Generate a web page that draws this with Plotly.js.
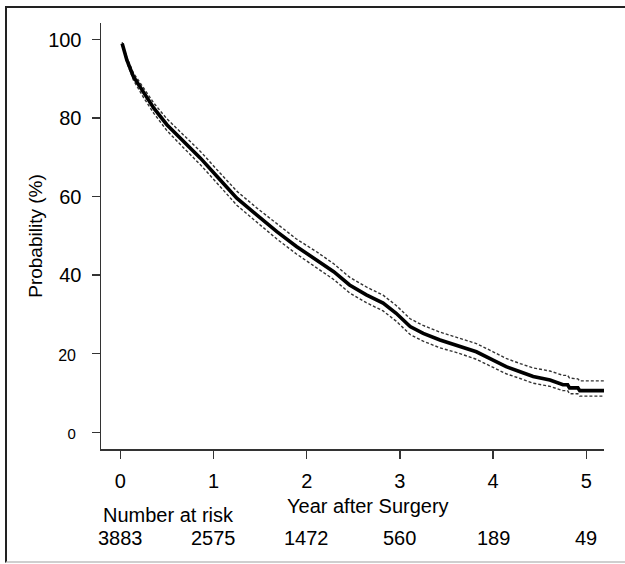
<!DOCTYPE html>
<html>
<head>
<meta charset="utf-8">
<script src="https://cdn.plot.ly/plotly-3.0.1.min.js"></script>
<style>
  html, body { margin: 0; padding: 0; background: #fff; }
  #wrap { position: relative; width: 625px; height: 564px; overflow: hidden; }
  #chart { position: absolute; left: 0; top: 0; width: 625px; height: 564px; }
  #frame { position: absolute; left: 5px; top: 6px; width: 640px; height: 553px;
           border-left: 2px solid #222; border-top: 2px solid #222; border-bottom: 2px solid #cfcfcf;
           pointer-events: none; }
</style>
</head>
<body>
<div id="wrap">
  <div id="chart"></div>
  <div id="frame"></div>
</div>
<script>
// Kaplan-Meier estimate (years after surgery, probability %)
const time = [0.02,0.07,0.14,0.25,0.36,0.50,0.68,0.86,1.07,1.25,1.46,1.68,1.89,2.11,2.29,2.46,2.64,2.82,2.96,3.11,3.25,3.43,3.61,3.82,4.00,4.14,4.29,4.43,4.61,4.75,4.80,4.82,4.91,4.93,5.20];
const survival = [99.0,94.8,90.6,86.4,82.5,78.3,74.0,69.8,64.3,59.6,55.4,51.1,47.3,43.9,40.9,37.5,35.0,32.9,30.3,26.9,25.2,23.5,22.2,20.5,18.4,16.7,15.4,14.2,13.3,12.1,12.1,11.3,11.3,10.6,10.6];
const upperCI = [99.3,95.4,91.5,87.6,83.8,79.8,75.6,71.5,66.0,61.4,57.2,53.0,49.2,45.9,42.9,39.5,37.0,34.9,32.3,28.9,27.2,25.5,24.2,22.6,20.5,18.8,17.5,16.4,15.6,14.5,14.5,13.8,13.6,13.1,13.1];
const lowerCI = [98.7,94.2,89.7,85.2,81.2,76.8,72.4,68.1,62.6,57.8,53.6,49.2,45.4,41.9,38.9,35.5,33.0,30.9,28.3,24.9,23.2,21.5,20.3,18.6,16.6,14.9,13.7,12.5,11.7,10.6,10.6,9.8,9.8,9.2,9.2];

// Axis ticks
const xTicks = [0,1,2,3,4,5];
const yTicks = [0,20,40,60,80,100];
const yTickLabels = ['<span style="font-size:15px">0</span>\u00a0','<span style="font-size:16px">20</span>\u00a0','40','60','80','100'];

// Number at risk table
const riskTimes = [0,1,2,3,4,5];
const riskCounts = ['3883','2575','1472','560','189','49'];

const FONT = '"Liberation Sans", Arial, Helvetica, sans-serif';

const traces = [
  { x: time, y: upperCI, type: 'scatter', mode: 'lines',
    line: { color: '#333', width: 1.4, dash: '3px,2px' }, hoverinfo: 'skip' },
  { x: time, y: lowerCI, type: 'scatter', mode: 'lines',
    line: { color: '#333', width: 1.4, dash: '3px,2px' }, hoverinfo: 'skip' },
  { x: time, y: survival, type: 'scatter', mode: 'lines',
    line: { color: '#000', width: 3.6 } }
];

const annotations = [
  { text: 'Year after Surgery', xref: 'paper', yref: 'paper', x: 0.53, y: -0.134,
    xanchor: 'center', yanchor: 'middle', showarrow: false, font: { size: 20, color: '#000', family: FONT } },
  { text: 'Number at risk', xref: 'paper', yref: 'paper', x: 0.0, y: -0.155,
    xanchor: 'left', yanchor: 'middle', showarrow: false, font: { size: 20, color: '#000', family: FONT } }
];
riskTimes.forEach((t, i) => {
  annotations.push({ text: riskCounts[i], xref: 'x', yref: 'paper', x: t, y: -0.209,
    xanchor: 'center', yanchor: 'middle', showarrow: false, font: { size: 20, color: '#000', family: FONT } });
});

const layout = {
  width: 625, height: 564,
  margin: { l: 101, r: 21, t: 23, b: 115 },
  paper_bgcolor: '#fff', plot_bgcolor: '#fff',
  showlegend: false,
  font: { family: FONT, color: '#000' },
  xaxis: {
    range: [-0.207, 5.19], tickvals: xTicks, ticktext: xTicks.map(String),
    showgrid: false, zeroline: false, showline: true, linecolor: '#333', linewidth: 1.5,
    ticks: 'outside', ticklen: 8, tickwidth: 1.5, tickcolor: '#333',
    tickfont: { size: 20, family: FONT, color: '#000' }, ticklabelstandoff: 5
  },
  yaxis: {
    range: [-4.25, 104.2], tickvals: yTicks, ticktext: yTickLabels,
    showgrid: false, zeroline: false, showline: true, linecolor: '#333', linewidth: 1.5,
    ticks: 'outside', ticklen: 8, tickwidth: 1.5, tickcolor: '#333',
    tickfont: { size: 20, family: FONT, color: '#000' }, ticklabelstandoff: 6,
    title: { text: 'Probability (%)', font: { size: 19, family: FONT, color: '#000' }, standoff: 0 }
  },
  annotations: annotations
};

Plotly.newPlot('chart', traces, layout, { staticPlot: true, displayModeBar: false });
</script>
</body>
</html>
